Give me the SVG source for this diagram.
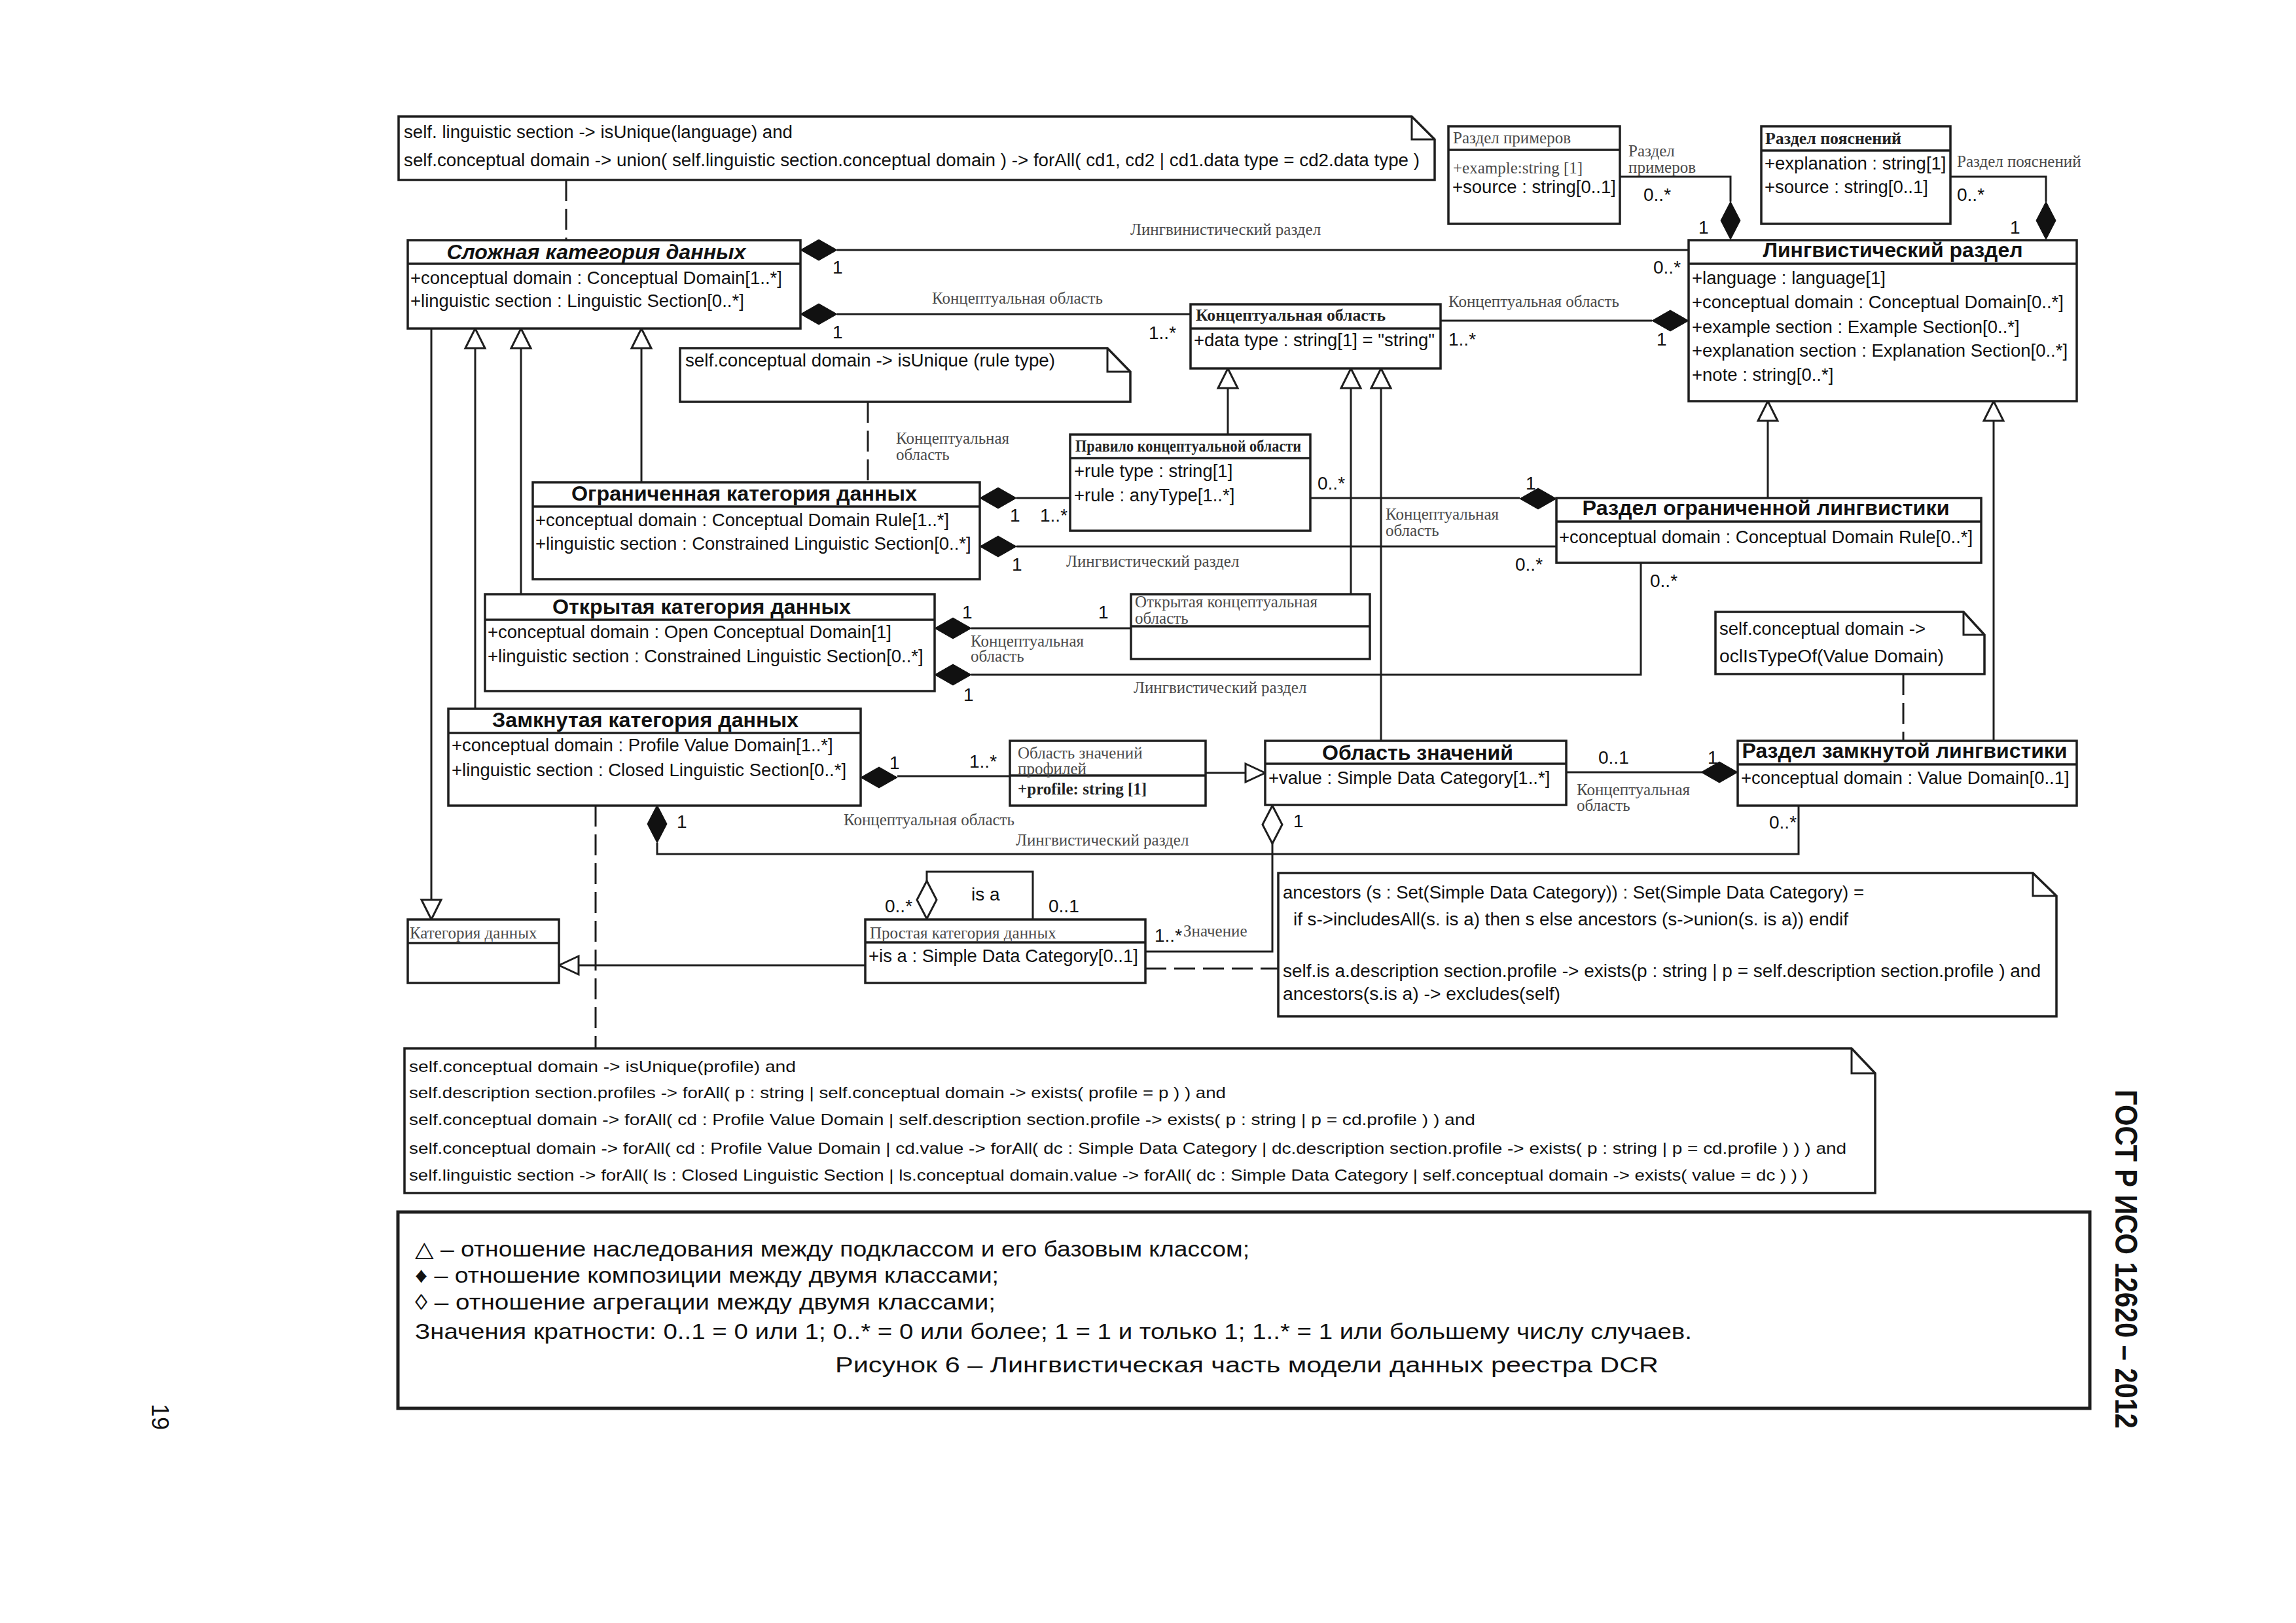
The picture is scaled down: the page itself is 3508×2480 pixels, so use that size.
<svg xmlns="http://www.w3.org/2000/svg" xmlns:xlink="http://www.w3.org/1999/xlink" width="3508" height="2480" viewBox="0 0 3508 2480">
<style>
.box{fill:#fff;stroke:#1e1e1e;stroke-width:3.5}
.hl{stroke:#1e1e1e;stroke-width:3.5}
.ln{fill:none;stroke:#1e1e1e;stroke-width:3}
.dash{fill:none;stroke:#1e1e1e;stroke-width:3;stroke-dasharray:32 12}
.fd{fill:#111;stroke:#111;stroke-width:1}
.hd{fill:#fff;stroke:#1e1e1e;stroke-width:3}
.tri{fill:#fff;stroke:#1e1e1e;stroke-width:3}
.t{font-family:"Liberation Sans",Arial,sans-serif;font-size:27.5px;fill:#111}
.tt{font-family:"Liberation Sans",Arial,sans-serif;font-size:32px;font-weight:bold;fill:#111;text-anchor:middle}
.m{font-family:"Liberation Sans",Arial,sans-serif;font-size:28px;fill:#111}
.lbl{font-family:"Liberation Serif","Times New Roman",serif;font-size:25px;fill:#4a4a4a}
.sb{font-family:"Liberation Serif","Times New Roman",serif;font-size:25px;font-weight:bold;fill:#222}
.n{font-family:"Liberation Sans",Arial,sans-serif;font-size:27px;fill:#111}
.nc{font-family:"Liberation Sans",Arial,sans-serif;font-size:24px;fill:#111}
.lg{font-family:"Liberation Sans",Arial,"DejaVu Sans",sans-serif;font-size:33px;fill:#111}
</style>
<defs>
<polygon id="dH" points="-28,0 0,-16 28,0 0,16"/>
<polygon id="dV" points="0,-29 15,0 0,29 -15,0"/>
<polygon id="tU" points="0,0 15,30 -15,30"/>
<polygon id="tD" points="0,0 15,-30 -15,-30"/>
<polygon id="tL" points="0,0 30,-14 30,14"/>
<polygon id="tR" points="0,0 -30,-14 -30,14"/>
</defs>
<rect width="3508" height="2480" fill="#fff"/>

<!-- Notes -->
<g id="note-language">
<path class="box" d="M609,178 H2157 L2192,213 V275 H609 Z"/>
<path class="ln" d="M2157,178 V213 H2192"/>
<text class="n" x="617" y="211" textLength="594" lengthAdjust="spacingAndGlyphs">self. linguistic section -&gt; isUnique(language) and</text>
<text class="n" x="617" y="254" textLength="1552" lengthAdjust="spacingAndGlyphs">self.conceptual domain -&gt; union( self.linguistic section.conceptual domain ) -&gt; forAll( cd1, cd2 | cd1.data type = cd2.data type )</text>
</g>
<g id="note-ruletype">
<path class="box" d="M1039,532 H1692 L1727,568 V614 H1039 Z"/>
<path class="ln" d="M1692,532 V568 H1727"/>
<text class="n" x="1047" y="560" textLength="565" lengthAdjust="spacingAndGlyphs">self.conceptual domain -&gt; isUnique (rule type)</text>
</g>
<g id="note-valuedomain">
<path class="box" d="M2621,935 H3000 L3032,970 V1030 H2621 Z"/>
<path class="ln" d="M3000,935 V970 H3032"/>
<text class="n" x="2627" y="970" textLength="315" lengthAdjust="spacingAndGlyphs">self.conceptual domain -&gt;</text>
<text class="n" x="2627" y="1012" textLength="343" lengthAdjust="spacingAndGlyphs">oclIsTypeOf(Value Domain)</text>
</g>
<g id="note-ancestors">
<path class="box" d="M1953,1334 H3106 L3142,1369 V1553 H1953 Z"/>
<path class="ln" d="M3106,1334 V1369 H3142"/>
<text class="n" x="1960" y="1373" textLength="888" lengthAdjust="spacingAndGlyphs">ancestors (s : Set(Simple Data Category)) : Set(Simple Data Category) =</text>
<text class="n" x="1976" y="1414" textLength="848" lengthAdjust="spacingAndGlyphs">if s-&gt;includesAll(s. is a) then s else  ancestors (s-&gt;union(s. is a)) endif</text>
<text class="n" x="1960" y="1493" textLength="1158" lengthAdjust="spacingAndGlyphs">self.is a.description section.profile   -&gt; exists(p : string | p = self.description section.profile ) and</text>
<text class="n" x="1960" y="1528" textLength="424" lengthAdjust="spacingAndGlyphs">ancestors(s.is a) -&gt;  excludes(self)</text>
</g>
<g id="note-closed">
<path class="box" d="M618,1602 H2829 L2865,1640 V1823 H618 Z"/>
<path class="ln" d="M2829,1602 V1640 H2865"/>
<text class="nc" x="625" y="1638" textLength="591" lengthAdjust="spacingAndGlyphs">self.conceptual domain  -&gt; isUnique(profile) and</text>
<text class="nc" x="625" y="1678" textLength="1248" lengthAdjust="spacingAndGlyphs">self.description section.profiles -&gt; forAll( p : string | self.conceptual domain -&gt; exists( profile = p ) ) and</text>
<text class="nc" x="625" y="1719" textLength="1629" lengthAdjust="spacingAndGlyphs">self.conceptual domain  -&gt; forAll( cd : Profile Value Domain | self.description section.profile   -&gt; exists( p : string | p = cd.profile ) ) and</text>
<text class="nc" x="625" y="1763" textLength="2196" lengthAdjust="spacingAndGlyphs">self.conceptual domain  -&gt; forAll( cd : Profile Value Domain | cd.value -&gt; forAll( dc : Simple Data Category | dc.description section.profile -&gt; exists( p : string | p = cd.profile ) ) )  and</text>
<text class="nc" x="625" y="1804" textLength="2138" lengthAdjust="spacingAndGlyphs">self.linguistic section -&gt; forAll( ls : Closed Linguistic Section | ls.conceptual domain.value -&gt; forAll( dc : Simple Data Category | self.conceptual domain -&gt; exists( value = dc ) ) )</text>
</g>

<!-- Connectors -->
<g id="connectors">
<path class="dash" d="M865,275 V367"/>
<path class="dash" d="M1326,614 V737"/>
<path class="dash" d="M2908,1030 V1132"/>
<path class="dash" d="M1750,1480 H1953"/>
<path class="dash" d="M910,1231 V1602"/>

<path class="ln" d="M1279,382 H2580"/>
<path class="ln" d="M1279,480 H1819"/>
<path class="ln" d="M2201,490 H2524"/>
<path class="ln" d="M2475,270 H2644 V308"/>
<path class="ln" d="M2980,270 H3126 V308"/>
<path class="ln" d="M659,502 V1375"/>
<path class="ln" d="M726,532 V1083"/>
<path class="ln" d="M796,532 V908"/>
<path class="ln" d="M980,532 V737"/>
<path class="ln" d="M1553,761 H1635"/>
<path class="ln" d="M1553,835 H2378"/>
<path class="ln" d="M1876,593 V664"/>
<path class="ln" d="M2002,761 H2322"/>
<path class="ln" d="M2064,593 V908"/>
<path class="ln" d="M2110,593 V1132"/>
<path class="ln" d="M2701,643 V761"/>
<path class="ln" d="M3046,643 V1132"/>
<path class="ln" d="M1484,960 H1728"/>
<path class="ln" d="M1484,1031 H2507 V860"/>
<path class="ln" d="M1371,1186 H1543"/>
<path class="ln" d="M1842,1181 H1903"/>
<path class="ln" d="M1004,1288 V1305 H2748 V1231"/>
<path class="ln" d="M2393,1180 H2600"/>
<path class="ln" d="M1944,1289 V1454 H1750"/>
<path class="ln" d="M1416,1346 V1332 H1578 V1405"/>
<path class="ln" d="M1322,1475 H884"/>

<use href="#dH" class="fd" x="1251" y="382"/>
<use href="#dH" class="fd" x="1251" y="480"/>
<use href="#dH" class="fd" x="2552" y="490"/>
<use href="#dV" class="fd" x="2644" y="337"/>
<use href="#dV" class="fd" x="3126" y="337"/>
<use href="#dH" class="fd" x="1525" y="761"/>
<use href="#dH" class="fd" x="1525" y="835"/>
<use href="#dH" class="fd" x="2350" y="762"/>
<use href="#dH" class="fd" x="1456" y="960"/>
<use href="#dH" class="fd" x="1456" y="1031"/>
<use href="#dH" class="fd" x="1343" y="1188"/>
<use href="#dV" class="fd" x="1004" y="1259"/>
<use href="#dH" class="fd" x="2627" y="1180"/>
<use href="#dV" class="hd" x="1944" y="1260"/>
<use href="#dV" class="hd" x="1416" y="1375"/>

<use href="#tU" class="tri" x="726" y="502"/>
<use href="#tU" class="tri" x="796" y="502"/>
<use href="#tU" class="tri" x="980" y="502"/>
<use href="#tD" class="tri" x="659" y="1405"/>
<use href="#tU" class="tri" x="1876" y="563"/>
<use href="#tU" class="tri" x="2064" y="563"/>
<use href="#tU" class="tri" x="2110" y="563"/>
<use href="#tU" class="tri" x="2701" y="613"/>
<use href="#tU" class="tri" x="3046" y="613"/>
<use href="#tR" class="tri" x="1933" y="1181"/>
<use href="#tL" class="tri" x="854" y="1475"/>

<text class="lbl" x="1727" y="359">Лингвинистический раздел</text>
<text class="lbl" x="1424" y="464">Концептуальная область</text>
<text class="lbl" x="2213" y="469">Концептуальная область</text>
<text class="lbl" x="2488" y="239">Раздел</text>
<text class="lbl" x="2488" y="264">примеров</text>
<text class="lbl" x="2990" y="255">Раздел пояснений</text>
<text class="lbl" x="1369" y="678">Концептуальная</text>
<text class="lbl" x="1369" y="703">область</text>
<text class="lbl" x="2117" y="794">Концептуальная</text>
<text class="lbl" x="2117" y="819">область</text>
<text class="lbl" x="1629" y="866">Лингвистический раздел</text>
<text class="lbl" x="1483" y="988">Концептуальная</text>
<text class="lbl" x="1483" y="1011">область</text>
<text class="lbl" x="1732" y="1059">Лингвистический раздел</text>
<text class="lbl" x="1289" y="1261">Концептуальная область</text>
<text class="lbl" x="1552" y="1292">Лингвистический раздел</text>
<text class="lbl" x="2409" y="1215">Концептуальная</text>
<text class="lbl" x="2409" y="1239">область</text>
<text class="lbl" x="1808" y="1431">Значение</text>

<text class="m" x="1272" y="418">1</text>
<text class="m" x="2526" y="418">0..*</text>
<text class="m" x="1272" y="517">1</text>
<text class="m" x="1755" y="518">1..*</text>
<text class="m" x="2213" y="528">1..*</text>
<text class="m" x="2531" y="528">1</text>
<text class="m" x="2511" y="307">0..*</text>
<text class="m" x="2595" y="357">1</text>
<text class="m" x="2990" y="307">0..*</text>
<text class="m" x="3071" y="357">1</text>
<text class="m" x="1543" y="797">1</text>
<text class="m" x="1589" y="797">1..*</text>
<text class="m" x="2013" y="748">0..*</text>
<text class="m" x="2331" y="748">1</text>
<text class="m" x="1546" y="872">1</text>
<text class="m" x="2315" y="872">0..*</text>
<text class="m" x="2521" y="897">0..*</text>
<text class="m" x="1470" y="945">1</text>
<text class="m" x="1678" y="945">1</text>
<text class="m" x="1472" y="1071">1</text>
<text class="m" x="1359" y="1175">1</text>
<text class="m" x="1481" y="1173">1..*</text>
<text class="m" x="1034" y="1265">1</text>
<text class="m" x="1976" y="1264">1</text>
<text class="m" x="2442" y="1167">0..1</text>
<text class="m" x="2609" y="1167">1</text>
<text class="m" x="2703" y="1266">0..*</text>
<text class="m" x="1484" y="1376">is a</text>
<text class="m" x="1352" y="1394">0..*</text>
<text class="m" x="1602" y="1394">0..1</text>
<text class="m" x="1764" y="1439">1..*</text>
</g>

<!-- Classes -->
<g id="complex-category">
<rect class="box" x="623" y="367" width="600" height="135"/>
<line class="hl" x1="623" y1="403" x2="1223" y2="403"/>
<text class="tt" x="911" y="396" font-style="italic" textLength="457" lengthAdjust="spacingAndGlyphs">Сложная категория данных</text>
<text class="t" x="627" y="434">+conceptual domain : Conceptual Domain[1..*]</text>
<text class="t" x="627" y="469">+linguistic section : Linguistic Section[0..*]</text>
</g>
<g id="linguistic-section">
<rect class="box" x="2580" y="367" width="593" height="246"/>
<line class="hl" x1="2580" y1="403" x2="3173" y2="403"/>
<text class="tt" x="2892" y="393" textLength="397" lengthAdjust="spacingAndGlyphs">Лингвистический раздел</text>
<text class="t" x="2585" y="434">+language : language[1]</text>
<text class="t" x="2585" y="471">+conceptual domain : Conceptual Domain[0..*]</text>
<text class="t" x="2585" y="509">+example section : Example Section[0..*]</text>
<text class="t" x="2585" y="545">+explanation section : Explanation Section[0..*]</text>
<text class="t" x="2585" y="582">+note : string[0..*]</text>
</g>
<g id="example-section">
<rect class="box" x="2213" y="193" width="262" height="149"/>
<line class="hl" x1="2213" y1="229" x2="2475" y2="229"/>
<text class="lbl" x="2220" y="219" font-size="29">Раздел примеров</text>
<text class="lbl" x="2220" y="265" font-size="29">+example:string [1]</text>
<text class="t" x="2219" y="295">+source : string[0..1]</text>
</g>
<g id="explanation-section">
<rect class="box" x="2691" y="193" width="289" height="149"/>
<line class="hl" x1="2691" y1="230" x2="2980" y2="230"/>
<text class="sb" x="2697" y="220" textLength="208" lengthAdjust="spacingAndGlyphs">Раздел пояснений</text>
<text class="t" x="2696" y="259">+explanation : string[1]</text>
<text class="t" x="2696" y="295">+source : string[0..1]</text>
</g>
<g id="conceptual-domain">
<rect class="box" x="1819" y="465" width="382" height="98"/>
<line class="hl" x1="1819" y1="502" x2="2201" y2="502"/>
<text class="sb" x="1827" y="490" textLength="290" lengthAdjust="spacingAndGlyphs">Концептуальная область</text>
<text class="t" x="1824" y="529">+data type : string[1] = "string"</text>
</g>
<g id="conceptual-domain-rule">
<rect class="box" x="1635" y="664" width="367" height="147"/>
<line class="hl" x1="1635" y1="700" x2="2002" y2="700"/>
<text class="sb" x="1643" y="690" font-size="22" textLength="345" lengthAdjust="spacingAndGlyphs">Правило концептуальной области</text>
<text class="t" x="1641" y="729">+rule type : string[1]</text>
<text class="t" x="1641" y="766">+rule : anyType[1..*]</text>
</g>
<g id="constrained-category">
<rect class="box" x="814" y="737" width="683" height="148"/>
<line class="hl" x1="814" y1="774" x2="1497" y2="774"/>
<text class="tt" x="1137" y="765" textLength="528" lengthAdjust="spacingAndGlyphs">Ограниченная категория данных</text>
<text class="t" x="818" y="804">+conceptual domain : Conceptual Domain Rule[1..*]</text>
<text class="t" x="818" y="840">+linguistic section : Constrained Linguistic Section[0..*]</text>
</g>
<g id="constrained-linguistic-section">
<rect class="box" x="2378" y="761" width="649" height="99"/>
<line class="hl" x1="2378" y1="797" x2="3027" y2="797"/>
<text class="tt" x="2698" y="787" textLength="561" lengthAdjust="spacingAndGlyphs">Раздел ограниченной лингвистики</text>
<text class="t" x="2382" y="830">+conceptual domain : Conceptual Domain Rule[0..*]</text>
</g>
<g id="open-category">
<rect class="box" x="741" y="908" width="687" height="148"/>
<line class="hl" x1="741" y1="947" x2="1428" y2="947"/>
<text class="tt" x="1072" y="938" textLength="456" lengthAdjust="spacingAndGlyphs">Открытая категория данных</text>
<text class="t" x="745" y="975">+conceptual domain : Open Conceptual Domain[1]</text>
<text class="t" x="745" y="1012">+linguistic section : Constrained Linguistic Section[0..*]</text>
</g>
<g id="open-conceptual-domain">
<rect class="box" x="1728" y="908" width="365" height="99"/>
<line class="hl" x1="1728" y1="957" x2="2093" y2="957"/>
<text class="lbl" x="1734" y="928">Открытая концептуальная</text>
<text class="lbl" x="1734" y="953">область</text>
</g>
<g id="closed-category">
<rect class="box" x="685" y="1083" width="630" height="148"/>
<line class="hl" x1="685" y1="1120" x2="1315" y2="1120"/>
<text class="tt" x="986" y="1111" textLength="468" lengthAdjust="spacingAndGlyphs">Замкнутая категория данных</text>
<text class="t" x="690" y="1148">+conceptual domain : Profile Value Domain[1..*]</text>
<text class="t" x="690" y="1186">+linguistic section : Closed Linguistic Section[0..*]</text>
</g>
<g id="profile-value-domain">
<rect class="box" x="1543" y="1132" width="299" height="99"/>
<line class="hl" x1="1543" y1="1185" x2="1842" y2="1185"/>
<text class="lbl" x="1555" y="1159">Область значений</text>
<text class="lbl" x="1555" y="1183">профилей</text>
<text class="sb" x="1555" y="1214">+profile: string [1]</text>
</g>
<g id="value-domain">
<rect class="box" x="1933" y="1132" width="460" height="98"/>
<line class="hl" x1="1933" y1="1167" x2="2393" y2="1167"/>
<text class="tt" x="2166" y="1161" textLength="292" lengthAdjust="spacingAndGlyphs">Область значений</text>
<text class="t" x="1938" y="1198">+value : Simple Data Category[1..*]</text>
</g>
<g id="closed-linguistic-section">
<rect class="box" x="2655" y="1132" width="518" height="99"/>
<line class="hl" x1="2655" y1="1168" x2="3173" y2="1168"/>
<text class="tt" x="2910" y="1158" textLength="497" lengthAdjust="spacingAndGlyphs">Раздел замкнутой лингвистики</text>
<text class="t" x="2660" y="1198">+conceptual domain : Value Domain[0..1]</text>
</g>
<g id="simple-category">
<rect class="box" x="1322" y="1405" width="428" height="97"/>
<line class="hl" x1="1322" y1="1440" x2="1750" y2="1440"/>
<text class="lbl" x="1329" y="1434">Простая категория данных</text>
<text class="t" x="1327" y="1470">+is a : Simple Data Category[0..1]</text>
</g>
<g id="data-category">
<rect class="box" x="623" y="1405" width="231" height="97"/>
<line class="hl" x1="623" y1="1441" x2="854" y2="1441"/>
<text class="lbl" x="626" y="1434">Категория данных</text>
</g>

<!-- Legend -->
<g id="legend">
<rect x="608" y="1852" width="2585" height="300" fill="#fff" stroke="#1e1e1e" stroke-width="5"/>
<text class="lg" x="634" y="1920" textLength="1275" lengthAdjust="spacingAndGlyphs">△ – отношение наследования между подклассом и его базовым классом;</text>
<text class="lg" x="634" y="1960" textLength="892" lengthAdjust="spacingAndGlyphs">♦ – отношение композиции между двумя классами;</text>
<text class="lg" x="634" y="2001" textLength="887" lengthAdjust="spacingAndGlyphs">◊ – отношение агрегации между двумя классами;</text>
<text class="lg" x="634" y="2046" textLength="1951" lengthAdjust="spacingAndGlyphs">Значения кратности: 0..1 = 0 или 1; 0..* = 0 или более; 1 = 1 и только 1; 1..* = 1 или большему числу случаев.</text>
<text class="lg" x="1276" y="2097" font-size="37" textLength="1258" lengthAdjust="spacingAndGlyphs">Рисунок 6 – Лингвистическая часть модели данных реестра DCR</text>
</g>

<g id="page-header">
<text x="0" y="0" transform="translate(3232,1924) rotate(90)" font-family="'Liberation Sans',Arial,sans-serif" font-size="48" font-weight="bold" fill="#111" text-anchor="middle" textLength="518" lengthAdjust="spacingAndGlyphs">ГОСТ Р ИСО 12620 – 2012</text>
<text x="0" y="0" transform="translate(232,2165) rotate(90)" font-family="'Liberation Sans',Arial,sans-serif" font-size="36" fill="#111" text-anchor="middle">19</text>
</g>
</svg>
